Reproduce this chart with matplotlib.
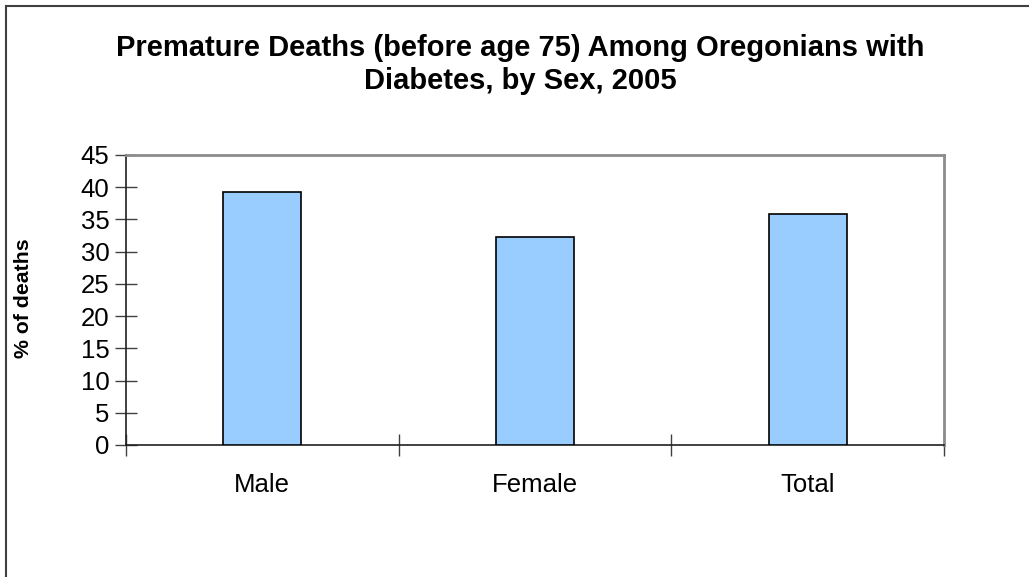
import matplotlib
matplotlib.use("Agg")
import matplotlib.pyplot as plt
from matplotlib.lines import Line2D

plt.rcParams['font.family'] = ['Liberation Sans', 'DejaVu Sans']

categories = ["Male", "Female", "Total"]
pct_deaths = [39.3, 32.3, 35.9]
y_ticks = list(range(0, 50, 5))

fig = plt.figure(figsize=(10.29, 5.77), dpi=100)
ax = fig.add_axes([0.1224, 0.2288, 0.7950, 0.5026])

x = range(len(categories))
ax.bar(x, pct_deaths, width=0.285, color="#99CCFF", edgecolor="black", linewidth=1.2, zorder=3)

ax.set_xlim(-0.5, len(categories) - 0.5)
ax.set_ylim(0, 45)
ax.set_yticks(y_ticks)
ax.set_yticklabels([str(t) for t in y_ticks], fontsize=18.5)

# category labels without ticks, ticks between categories
ax.set_xticks(list(x))
ax.set_xticklabels(categories, fontsize=18.5)
ax.tick_params(axis='x', which='major', length=0, pad=20)
ax.set_xticks([i - 0.5 for i in range(len(categories) + 1)], minor=True)
ax.tick_params(axis='x', which='minor', direction='inout', length=16, width=1, color='#404040')
ax.tick_params(axis='y', direction='inout', length=16, width=1, color='#404040', pad=4)

for side in ['top', 'right']:
    ax.spines[side].set_color('#8c8c8c')
    ax.spines[side].set_linewidth(2)
for side in ['left', 'bottom']:
    ax.spines[side].set_color('#202020')
    ax.spines[side].set_linewidth(1.2)

fig.text(24 / 1029, 1 - 298 / 577, "% of deaths", rotation=90,
         ha='center', va='center', fontsize=15.3, fontweight='bold')

fig.text(0.506, 0.889,
         "Premature Deaths (before age 75) Among Oregonians with\nDiabetes, by Sex, 2005",
         ha='center', va='center', fontsize=21, fontweight='bold', linespacing=1.23)

# outer chart frame (only top and left edges visible)
fig.add_artist(Line2D([6 / 1029, 6 / 1029], [0, 1 - 6 / 577], color='#404040', linewidth=1.5))
fig.add_artist(Line2D([6 / 1029, 1], [1 - 6 / 577, 1 - 6 / 577], color='#404040', linewidth=1.5))

fig.savefig("out.png", dpi=100)
